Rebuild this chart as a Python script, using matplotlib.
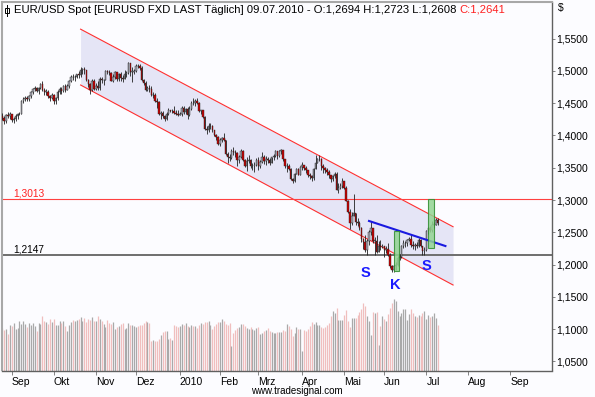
import matplotlib
matplotlib.use("Agg")
import matplotlib.pyplot as plt
import matplotlib.transforms as mtransforms
from matplotlib.patches import Rectangle
from matplotlib.lines import Line2D
import numpy as np
import pandas as pd

plt.rcParams['font.family'] = ['Liberation Sans', 'DejaVu Sans']

# ---------------- data (EUR/USD daily) ----------------
first_open = 1.4330

close_aug = [1.4300, 1.4275, 1.4230, 1.4310, 1.4300, 1.4330]
high_aug  = [1.4340, 1.4350, 1.4300, 1.4330, 1.4365, 1.4360]
low_aug   = [1.4250, 1.4235, 1.4180, 1.4200, 1.4270, 1.4260]

close_sep = [1.4240, 1.4260, 1.4300, 1.4330, 1.4340, 1.4530, 1.4570, 1.4580, 1.4570, 1.4610,
             1.4670, 1.4720, 1.4730, 1.4690, 1.4730, 1.4800, 1.4700, 1.4680, 1.4680, 1.4610,
             1.4580, 1.4630]
high_sep  = [1.4340, 1.4290, 1.4330, 1.4350, 1.4360, 1.4545, 1.4600, 1.4610, 1.4610, 1.4625,
             1.4690, 1.4740, 1.4760, 1.4750, 1.4745, 1.4810, 1.4845, 1.4730, 1.4720, 1.4700,
             1.4630, 1.4665]
low_sep   = [1.4210, 1.4200, 1.4230, 1.4250, 1.4310, 1.4330, 1.4510, 1.4530, 1.4540, 1.4530,
             1.4580, 1.4640, 1.4690, 1.4670, 1.4650, 1.4720, 1.4690, 1.4630, 1.4630, 1.4580,
             1.4540, 1.4570]

close_oct = [1.4530, 1.4580, 1.4670, 1.4720, 1.4690, 1.4760, 1.4710, 1.4770, 1.4840, 1.4910,
             1.4900, 1.4910, 1.4950, 1.4930, 1.5020, 1.5030, 1.5010, 1.4860, 1.4790, 1.4700,
             1.4850, 1.4720]
high_oct  = [1.4650, 1.4600, 1.4700, 1.4750, 1.4750, 1.4780, 1.4800, 1.4790, 1.4860, 1.4930,
             1.4950, 1.4940, 1.4960, 1.5000, 1.5060, 1.5040, 1.5065, 1.5020, 1.4880, 1.4810,
             1.4880, 1.4875]
low_oct   = [1.4480, 1.4480, 1.4550, 1.4650, 1.4640, 1.4680, 1.4680, 1.4700, 1.4740, 1.4830,
             1.4860, 1.4840, 1.4890, 1.4890, 1.4910, 1.4950, 1.4960, 1.4850, 1.4750, 1.4650,
             1.4690, 1.4710]

close_nov = [1.4760, 1.4740, 1.4880, 1.4860, 1.4860, 1.5000, 1.4990, 1.4970, 1.4850, 1.4910,
             1.4980, 1.4870, 1.4960, 1.4890, 1.4870, 1.4960, 1.4970, 1.5130, 1.4990, 1.4990,
             1.5000]
high_nov  = [1.4810, 1.4840, 1.4900, 1.4900, 1.4880, 1.5010, 1.5020, 1.5020, 1.4990, 1.4950,
             1.5000, 1.4990, 1.4970, 1.4980, 1.4940, 1.5010, 1.5000, 1.5145, 1.5130, 1.5060,
             1.5030]
low_nov   = [1.4700, 1.4700, 1.4710, 1.4820, 1.4780, 1.4860, 1.4950, 1.4930, 1.4840, 1.4830,
             1.4880, 1.4850, 1.4850, 1.4850, 1.4830, 1.4880, 1.4900, 1.4950, 1.4920, 1.4830,
             1.4950]

close_dec = [1.5080, 1.5070, 1.5050, 1.4860, 1.4810, 1.4700, 1.4730, 1.4720, 1.4620, 1.4630,
             1.4540, 1.4520, 1.4340, 1.4350, 1.4300, 1.4250, 1.4340, 1.4390, 1.4380, 1.4380,
             1.4350, 1.4340, 1.4320]
high_dec  = [1.5100, 1.5110, 1.5110, 1.5080, 1.4880, 1.4840, 1.4760, 1.4780, 1.4760, 1.4680,
             1.4660, 1.4580, 1.4530, 1.4380, 1.4380, 1.4320, 1.4370, 1.4420, 1.4400, 1.4410,
             1.4460, 1.4400, 1.4400]
low_dec   = [1.4990, 1.5040, 1.5020, 1.4850, 1.4780, 1.4690, 1.4690, 1.4680, 1.4610, 1.4580,
             1.4520, 1.4430, 1.4320, 1.4260, 1.4270, 1.4220, 1.4240, 1.4320, 1.4360, 1.4350,
             1.4330, 1.4310, 1.4300]

close_jan = [1.4330, 1.4420, 1.4370, 1.4410, 1.4310, 1.4410, 1.4510, 1.4500, 1.4540, 1.4500,
             1.4380, 1.4390, 1.4290, 1.4100, 1.4090, 1.4150, 1.4150, 1.4080, 1.4010, 1.3970,
             1.3860]
high_jan  = [1.4360, 1.4450, 1.4450, 1.4420, 1.4440, 1.4460, 1.4530, 1.4580, 1.4560, 1.4580,
             1.4520, 1.4400, 1.4400, 1.4300, 1.4140, 1.4190, 1.4200, 1.4160, 1.4090, 1.4020,
             1.3990]
low_jan   = [1.4310, 1.4300, 1.4330, 1.4340, 1.4260, 1.4300, 1.4400, 1.4470, 1.4460, 1.4480,
             1.4370, 1.4340, 1.4270, 1.4080, 1.4030, 1.4050, 1.4100, 1.4050, 1.3990, 1.3930,
             1.3850]

close_feb = [1.3930, 1.3960, 1.3930, 1.3720, 1.3670, 1.3650, 1.3760, 1.3750, 1.3730, 1.3620,
             1.3660, 1.3760, 1.3620, 1.3520, 1.3610, 1.3620, 1.3520, 1.3520, 1.3550, 1.3620]
high_feb  = [1.3960, 1.3980, 1.4040, 1.3930, 1.3740, 1.3720, 1.3790, 1.3820, 1.3780, 1.3740,
             1.3690, 1.3790, 1.3780, 1.3630, 1.3660, 1.3690, 1.3630, 1.3580, 1.3590, 1.3650]
low_feb   = [1.3840, 1.3900, 1.3920, 1.3700, 1.3580, 1.3600, 1.3640, 1.3700, 1.3670, 1.3530,
             1.3580, 1.3650, 1.3600, 1.3510, 1.3450, 1.3570, 1.3500, 1.3460, 1.3440, 1.3520]

close_mar = [1.3530, 1.3590, 1.3670, 1.3600, 1.3630, 1.3620, 1.3580, 1.3660, 1.3680, 1.3760,
             1.3680, 1.3760, 1.3770, 1.3630, 1.3520, 1.3530, 1.3480, 1.3320, 1.3290, 1.3410,
             1.3480, 1.3390, 1.3510]
high_mar  = [1.3660, 1.3620, 1.3740, 1.3690, 1.3680, 1.3670, 1.3650, 1.3670, 1.3720, 1.3780,
             1.3750, 1.3770, 1.3790, 1.3780, 1.3640, 1.3570, 1.3560, 1.3490, 1.3340, 1.3420,
             1.3500, 1.3500, 1.3520]
low_mar   = [1.3470, 1.3490, 1.3580, 1.3560, 1.3550, 1.3580, 1.3540, 1.3580, 1.3620, 1.3660,
             1.3640, 1.3660, 1.3710, 1.3610, 1.3500, 1.3440, 1.3460, 1.3310, 1.3270, 1.3280,
             1.3400, 1.3380, 1.3380]

close_apr = [1.3540, 1.3500, 1.3460, 1.3390, 1.3370, 1.3340, 1.3480, 1.3580, 1.3630, 1.3630,
             1.3530, 1.3490, 1.3470, 1.3440, 1.3380, 1.3330, 1.3370, 1.3400, 1.3160, 1.3190,
             1.3220, 1.3290]
high_apr  = [1.3590, 1.3550, 1.3530, 1.3470, 1.3420, 1.3390, 1.3500, 1.3690, 1.3650, 1.3690,
             1.3650, 1.3560, 1.3510, 1.3490, 1.3460, 1.3390, 1.3390, 1.3440, 1.3430, 1.3260,
             1.3270, 1.3340]
low_apr   = [1.3460, 1.3470, 1.3420, 1.3360, 1.3330, 1.3300, 1.3310, 1.3520, 1.3570, 1.3600,
             1.3470, 1.3420, 1.3420, 1.3390, 1.3340, 1.3280, 1.3300, 1.3340, 1.3150, 1.3110,
             1.3170, 1.3180]

close_may = [1.3190, 1.2990, 1.2820, 1.2640, 1.2750, 1.2800, 1.2660, 1.2640, 1.2570, 1.2390,
             1.2350, 1.2220, 1.2370, 1.2500, 1.2570, 1.2370, 1.2370, 1.2200, 1.2280, 1.2270,
             1.2290]
high_may  = [1.3300, 1.3220, 1.3000, 1.2860, 1.2820, 1.3090, 1.2800, 1.2720, 1.2680, 1.2580,
             1.2410, 1.2450, 1.2400, 1.2530, 1.2670, 1.2560, 1.2420, 1.2450, 1.2370, 1.2380,
             1.2320]
low_may   = [1.3170, 1.2990, 1.2800, 1.2550, 1.2610, 1.2760, 1.2620, 1.2600, 1.2530, 1.2350,
             1.2240, 1.2190, 1.2150, 1.2300, 1.2460, 1.2340, 1.2150, 1.2180, 1.2200, 1.2230,
             1.2260]

close_jun = [1.2230, 1.2240, 1.2150, 1.1970, 1.1920, 1.1980, 1.1990, 1.2100, 1.2110, 1.2290,
             1.2330, 1.2330, 1.2380, 1.2400, 1.2300, 1.2280, 1.2300, 1.2290, 1.2380, 1.2280,
             1.2210, 1.2230]
high_jun  = [1.2290, 1.2290, 1.2330, 1.2180, 1.1990, 1.2000, 1.2040, 1.2130, 1.2160, 1.2310,
             1.2380, 1.2360, 1.2390, 1.2430, 1.2470, 1.2360, 1.2330, 1.2350, 1.2410, 1.2400,
             1.2290, 1.2270]
low_jun   = [1.2110, 1.2180, 1.2130, 1.1950, 1.1880, 1.1890, 1.1920, 1.1970, 1.2070, 1.2100,
             1.2250, 1.2270, 1.2290, 1.2360, 1.2270, 1.2240, 1.2230, 1.2250, 1.2270, 1.2270,
             1.2150, 1.2150]

close_jul = [1.2520, 1.2560, 1.2540, 1.2620, 1.2620, 1.2694, 1.2641]
high_jul  = [1.2530, 1.2580, 1.2590, 1.2670, 1.2660, 1.2720, 1.2723]
low_jul   = [1.2210, 1.2480, 1.2500, 1.2510, 1.2560, 1.2610, 1.2608]

# tick volume (thousands)
volumes = [42, 43, 41, 42, 37, 46, 45, 48, 42, 43,
           50, 47, 50, 47, 44, 48, 46, 48, 45, 40,
           48, 47, 55, 50, 49, 47, 52, 49, 52, 46,
           46, 50, 48, 50, 45, 40, 46, 49, 51, 50,
           51, 52, 54, 50, 53, 49, 52, 51, 54, 50,
           50, 55, 52, 50, 47, 44, 51, 48, 47, 49,
           42, 44, 45, 47, 48, 42, 43, 48, 46, 46,
           45, 44, 45, 46, 46, 48, 50, 49, 48, 30,
           31, 30, 30, 32, 36, 39, 40, 40, 32, 33,
           31, 46, 45, 44, 45, 47, 46, 48, 45, 44,
           46, 45, 45, 43, 46, 48, 47, 49, 49, 50,
           46, 42, 45, 47, 49, 49, 52, 50, 47, 46,
           48, 25, 38, 41, 43, 44, 47, 47, 45, 43,
           42, 44, 42, 41, 43, 44, 37, 38, 40, 41,
           43, 40, 39, 38, 38, 39, 39, 39, 41, 40,
           47, 45, 42, 35, 38, 44, 42, 42, 20, 41,
           40, 42, 45, 49, 47, 49, 46, 46, 44, 43,
           44, 46, 48, 55, 60, 58, 63, 51, 51, 51,
           56, 61, 50, 44, 53, 53, 53, 56, 59, 62,
           68, 65, 55, 50, 36, 59, 58, 59, 26, 45,
           55, 52, 50, 57, 63, 68, 72, 70, 60, 55,
           58, 62, 62, 51, 57, 62, 58, 55, 54, 56,
           55, 58, 60, 52, 56, 54, 55, 58, 53, 46]

closes = (close_aug + close_sep + close_oct + close_nov + close_dec + close_jan + close_feb
          + close_mar + close_apr + close_may + close_jun + close_jul)
highs = (high_aug + high_sep + high_oct + high_nov + high_dec + high_jan + high_feb
         + high_mar + high_apr + high_may + high_jun + high_jul)
lows = (low_aug + low_sep + low_oct + low_nov + low_dec + low_jan + low_feb
        + low_mar + low_apr + low_may + low_jun + low_jul)
opens = [first_open] + closes[:-1]

dates = pd.bdate_range('2009-08-24', '2010-07-09')
axis_days = pd.bdate_range('2009-08-24', '2010-09-30')

month_starts = ['2009-09-01', '2009-10-01', '2009-11-02', '2009-12-01', '2010-01-01',
                '2010-02-01', '2010-03-01', '2010-04-01', '2010-05-03', '2010-06-01',
                '2010-07-01', '2010-08-02', '2010-09-01']
month_labels = ['Sep', 'Okt', 'Nov', 'Dez', '2010', 'Feb', 'Mrz', 'Apr', 'Mai', 'Jun',
                'Jul', 'Aug', 'Sep']

price_ticks = [1.05, 1.10, 1.15, 1.20, 1.25, 1.30, 1.35, 1.40, 1.45, 1.50, 1.55]

# trend channel (dates, upper, lower)
channel_dates = ['2009-10-21', '2010-07-21']
channel_upper = [1.5647, 1.2586]
channel_lower = [1.4782, 1.1683]

# neckline of the inverse head-shoulders
neck_dates = ['2010-05-20', '2010-07-15']
neck_prices = [1.2675, 1.2287]

# horizontal levels
level_red = 1.3013
level_grey = 1.2147

# highlight boxes (start date, bars wide, low, high)
box_k = ('2010-06-08', 2.5, 1.1900, 1.2524)
box_target = ('2010-07-02', 3.0, 1.2252, 1.3011)

# pattern letters (date, price, text)
pattern_labels = [('2010-05-18', 1.1874, 'S'), ('2010-06-09', 1.1683, 'K'),
                  ('2010-07-01', 1.1977, 'S')]

header_black = "EUR/USD Spot [EURUSD FXD LAST Täglich] 09.07.2010 - O:1,2694 H:1,2723 L:1,2608 "
header_red = "C:1,2641"


def idx(d):
    return axis_days.get_loc(pd.Timestamp(d))


def fmt(v):
    return f"{v:.4f}".replace('.', ',')


# ---------------- figure ----------------
W, H = 595, 397
fig = plt.figure(figsize=(W / 100, H / 100), dpi=100, facecolor='#fcfcff')
L, R, T, B = 1.5, 552, 2, 370.5
pos = [L / W, 1 - B / H, (R - L) / W, (B - T) / H]

axv = fig.add_axes(pos, zorder=0, facecolor='#fbfbfe')
ax = fig.add_axes(pos, zorder=1, facecolor='none', sharex=axv)

x = np.arange(len(closes))
o = np.array(opens); c = np.array(closes)
h = np.maximum(np.array(highs), np.maximum(o, c))
lo = np.minimum(np.array(lows), np.minimum(o, c))
up = c >= o

xmax = 288.8
axv.set_xlim(0.6, xmax)
axv.set_ylim(0, 368.5)
axv.axis('off')
vol_cols = np.where(up, '#a9a9a9', '#f0bebe')
axv.vlines(x, 0, volumes, colors=vol_cols, linewidth=0.9)

ymin = 1.30 - (B - 200) / 645.4
ymax = 1.30 + (200 - T) / 645.4
ax.set_ylim(ymin, ymax)

# channel
cx = [idx(d) for d in channel_dates]
ax.fill_between(cx, channel_lower, channel_upper, color='#e5e5f6', zorder=1, linewidth=0)
ax.plot(cx, channel_upper, color='#ff3030', lw=0.8, zorder=2)
ax.plot(cx, channel_lower, color='#ff3030', lw=0.8, zorder=2)

# horizontal levels
ax.axhline(level_red, color='#ff4040', lw=0.8, zorder=2)
ax.axhline(level_grey, color='#6e6e6e', lw=1.4, zorder=2)
blend = mtransforms.blended_transform_factory(ax.transAxes, ax.transData)
ax.text(0.021, level_red + 0.0015, fmt(level_red), transform=blend, color='#ff2020',
        fontsize=7.3, va='bottom', ha='left')
ax.text(0.021, level_grey + 0.0015, fmt(level_grey), transform=blend, color='black',
        fontsize=7.3, va='bottom', ha='left')

# candles
ax.vlines(x, lo, h, colors='#202020', linewidth=0.6, zorder=3)
body_bottom = np.minimum(o, c)
body_h = np.maximum(np.abs(c - o), 0.0004)
ax.bar(x, body_h, bottom=body_bottom, width=0.75,
       color=np.where(up, '#a8a8b4', '#cc0000'), edgecolor='#202020', linewidth=0.3, zorder=4)

# neckline
nx = [idx(d) for d in neck_dates]
ax.plot(nx, neck_prices, color='#1a1ae0', lw=1.5, zorder=5)

# boxes
for d, wbars, b0, b1 in (box_k, box_target):
    ax.add_patch(Rectangle((idx(d), b0), wbars, b1 - b0, facecolor='#92d492',
                           edgecolor='#2e8b2e', lw=0.8, alpha=0.85, zorder=6))

for d, p, t in pattern_labels:
    ax.text(idx(d), p, t, color='#1a1aff', fontsize=10.5, fontweight='bold',
            ha='center', va='center', zorder=7)

# axes styling
ax.yaxis.tick_right()
ax.set_yticks(price_ticks)
ax.set_yticklabels([fmt(v) for v in price_ticks])
ax.tick_params(axis='y', direction='out', length=2.5, width=0.6, color='#707070',
               labelsize=7.5, pad=0.5)
ax.set_xticks([idx(d) for d in month_starts])
ax.set_xticklabels(month_labels)
ax.tick_params(axis='x', direction='out', length=3, width=0.6, color='#707070',
               labelsize=7.5, pad=2)
for lbl in ax.get_xticklabels():
    lbl.set_horizontalalignment('left')

for s in ['top', 'left']:
    ax.spines[s].set_color('#a8a8a8')
    ax.spines[s].set_linestyle((0, (1, 1)))
    ax.spines[s].set_linewidth(1.5)
for s in ['right', 'bottom']:
    ax.spines[s].set_color('#606060')
    ax.spines[s].set_linewidth(1.0)

# header
fig.text(557.5 / W, 1 - 7.5 / H, '$', fontsize=7.5, ha='left', va='center')
t1 = fig.text(14 / W, 1 - 10 / H, header_black, fontsize=8.1, ha='left', va='center')
fig.canvas.draw()
bb = t1.get_window_extent()
fig.text(bb.x1 / W, 1 - 10 / H, header_red, fontsize=8.1, ha='left', va='center',
         color='#ff2020')
# small candle icon
fig.add_artist(Line2D([6.5 / W, 6.5 / W], [1 - 4.5 / H, 1 - 15.5 / H], color='black', lw=0.7))
fig.add_artist(Rectangle((4.5 / W, 1 - 13 / H), 4 / W, 5 / H, facecolor='white',
                         edgecolor='black', lw=0.7))

fig.text(297 / W, 1 - 391 / H, 'www.tradesignal.com', fontsize=7, ha='center', va='center')

fig.savefig('out.png', dpi=100, facecolor=fig.get_facecolor())
